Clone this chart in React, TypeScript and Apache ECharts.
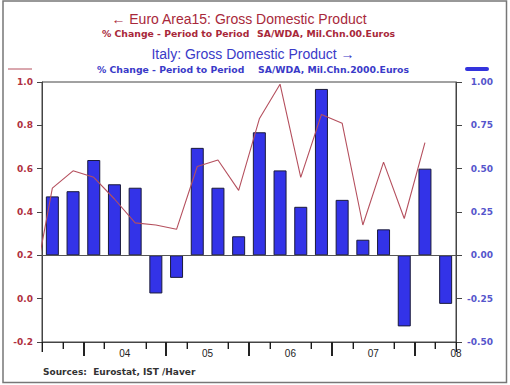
import React, { useEffect, useRef } from "react";
import * as echarts from "echarts";

// Quarterly categories (2003Q3 .. 2008Q2)
const quarters = [
  "2003Q3", "2003Q4", "2004Q1", "2004Q2", "2004Q3", "2004Q4", "2005Q1", "2005Q2",
  "2005Q3", "2005Q4", "2006Q1", "2006Q2", "2006Q3", "2006Q4", "2007Q1", "2007Q2",
  "2007Q3", "2007Q4", "2008Q1", "2008Q2",
];
// Italy GDP % change (right axis, bars)
const italyGdp = [
  0.34, 0.37, 0.55, 0.41, 0.39, -0.22, -0.13, 0.62, 0.39, 0.11,
  0.71, 0.49, 0.28, 0.96, 0.32, 0.09, 0.15, -0.41, 0.5, -0.28,
];
// Euro Area15 GDP % change (left axis, line)
const euroGdp = [
  0.51, 0.59, 0.56, 0.46, 0.35, 0.34, 0.32, 0.61, 0.64, 0.5,
  0.83, 0.99, 0.56, 0.85, 0.81, 0.34, 0.63, 0.37, 0.72, null,
];
// Euro Area value of the quarter before the first shown (2003Q2), clipped at the left edge
const euroGdpPrior = 0.0;
// Year labels, placed at mid-year boundaries
const yearLabels = ["04", "05", "06", "07", "08"];
const leftTicks = { min: -0.2, max: 1.0, interval: 0.2 };
const rightTicks = { min: -0.5, max: 1.0, interval: 0.25 };

const FONT = "'Liberation Sans', Arial, Helvetica, sans-serif";
const WIDE = "'DejaVu Sans', Verdana, sans-serif";
const RED = "#a8283a";
const BLUE = "#3a3ac8";

export default function App() {
  const ref = useRef<HTMLDivElement>(null);
  useEffect(() => {
    if (!ref.current) return;
    const chart = echarts.init(ref.current, null, { renderer: "svg" });
    const n = quarters.length;
    const boundaries = Array.from({ length: n + 1 }, (_, i) => String(i));
    // quarter boundaries that carry a small tick (mid-year ones carry the year label instead)
    const minorTickData = Array.from({ length: n + 1 }, (_, i) => i)
      .filter((i) => !(i % 4 === 0 && i > 0 && i < n) && i % 4 !== 2)
      .map((i) => [i, leftTicks.min]);
    const lineData: any[] = [[-1, euroGdpPrior]];
    euroGdp.forEach((v, i) => lineData.push([i, v]));
    const barData = italyGdp.map((v, i) => [i, v]);

    const subStyle = (text: string, fill: string) => ({
      text,
      fill,
      fontSize: 9.3,
      fontWeight: "bold",
      fontFamily: WIDE,
      align: "left",
      verticalAlign: "middle",
    });

    chart.setOption({
      animation: false,
      backgroundColor: "#ffffff",
      grid: {
        left: 42,
        right: 54,
        top: 82,
        bottom: 43,
        show: true,
        borderColor: "#444",
        borderWidth: 1,
        backgroundColor: "transparent",
      },
      xAxis: [
        {
          type: "value",
          min: -0.5,
          max: n - 0.5,
          show: false,
          axisLine: { onZero: false },
        },
        {
          // year boundaries: heavier ticks
          type: "category",
          data: boundaries,
          boundaryGap: false,
          position: "bottom",
          axisLine: { show: false, onZero: false },
          axisTick: {
            show: true,
            length: 14,
            lineStyle: { color: "#222", width: 2 },
            interval: (i: number) => i % 4 === 2,
          },
          axisLabel: { show: false },
          splitLine: { show: false },
        },
        {
          // quarter boundaries, year labels at mid-year
          type: "value",
          min: 0,
          max: n,
          interval: 1,
          position: "bottom",
          axisLine: { show: true, onZero: false, lineStyle: { color: "#444", width: 1 } },
          axisTick: { show: false },
          axisLabel: {
            show: true,
            margin: 6,
            color: "#222",
            fontSize: 10,
            fontFamily: FONT,
            formatter: (v: number) =>
              v > 0 && v % 4 === 0 ? yearLabels[v / 4 - 1] ?? "" : "",
          },
          splitLine: { show: false },
        },
      ],
      yAxis: [
        {
          type: "value",
          position: "left",
          ...leftTicks,
          axisLine: { show: true, onZero: false, lineStyle: { color: "#444" } },
          axisTick: { show: true, length: 5, lineStyle: { color: "#444" } },
          axisLabel: {
            color: "#b03040",
            fontSize: 9,
            fontWeight: "bold",
            fontFamily: WIDE,
            margin: 9,
            formatter: (v: number) => v.toFixed(1),
          },
          splitLine: { show: false },
        },
        {
          type: "value",
          position: "right",
          ...rightTicks,
          axisLine: { show: true, onZero: false, lineStyle: { color: "#444" } },
          axisTick: { show: true, length: 6, lineStyle: { color: "#444" } },
          axisLabel: {
            color: "#5555cc",
            fontSize: 9,
            fontWeight: "bold",
            fontFamily: WIDE,
            margin: 37,
            align: "right",
            formatter: (v: number) => v.toFixed(2),
          },
          splitLine: { show: false },
        },
      ],
      series: [
        {
          type: "bar",
          name: "Italy",
          xAxisIndex: 0,
          yAxisIndex: 1,
          data: barData,
          barWidth: 13,
          itemStyle: { color: "#3333e8", borderColor: "#1a1a3a", borderWidth: 1 },
          markLine: {
            silent: true,
            symbol: ["none", "none"],
            label: { show: false },
            lineStyle: { color: "#555", type: "solid", width: 1 },
            data: [{ yAxis: 0 }],
          },
        },
        {
          type: "line",
          name: "Euro Area15",
          xAxisIndex: 0,
          yAxisIndex: 0,
          data: lineData,
          clip: true,
          showSymbol: false,
          symbol: "none",
          connectNulls: false,
          lineStyle: { color: "#b5505e", width: 1.1 },
        },
        {
          // small quarter ticks below the time axis
          type: "custom",
          xAxisIndex: 2,
          yAxisIndex: 0,
          silent: true,
          clip: false,
          z: 5,
          data: minorTickData,
          encode: { x: 0, y: 1 },
          renderItem: (_params: any, api: any) => {
            const p = api.coord([api.value(0), api.value(1)]);
            const len = api.value(0) === 0 || api.value(0) === n ? 10 : 7;
            return {
              type: "rect",
              shape: { x: Math.round(p[0]) - 0.4, y: p[1], width: 1.4, height: len },
              style: { fill: "#1a1a1a" },
            };
          },
        },
      ],
      graphic: [
        {
          type: "rect",
          shape: { x: 3, y: 1, width: 503.5, height: 381.5 },
          style: { fill: "none", stroke: "#777", lineWidth: 1.5 },
          silent: true,
        },
        {
          type: "text",
          x: 239,
          y: 19,
          style: {
            text: "\u2190 Euro Area15: Gross Domestic Product",
            fill: RED,
            fontSize: 14,
            fontFamily: FONT,
            align: "center",
            verticalAlign: "middle",
          },
        },
        { type: "text", x: 102, y: 33, style: subStyle("% Change - Period to Period", RED) },
        { type: "text", x: 257, y: 33, style: subStyle("SA/WDA, Mil.Chn.00.Euros", RED) },
        {
          type: "text",
          x: 253,
          y: 54,
          style: {
            text: "Italy: Gross Domestic Product \u2192",
            fill: BLUE,
            fontSize: 14,
            fontFamily: FONT,
            align: "center",
            verticalAlign: "middle",
          },
        },
        { type: "text", x: 97, y: 69, style: subStyle("% Change - Period to Period", BLUE) },
        { type: "text", x: 258, y: 69, style: subStyle("SA/WDA, Mil.Chn.2000.Euros", BLUE) },
        {
          type: "line",
          shape: { x1: 8, y1: 69, x2: 32, y2: 69 },
          style: { stroke: "#b5505e", lineWidth: 1 },
        },
        {
          type: "line",
          shape: { x1: 467, y1: 69, x2: 487, y2: 69 },
          style: { stroke: "#3333dd", lineWidth: 4, lineCap: "round" },
        },
        {
          type: "text",
          x: 43,
          y: 372,
          style: {
            text: "Sources:  Eurostat, IST /Haver",
            fill: "#333",
            fontSize: 9,
            fontWeight: "bold",
            fontFamily: WIDE,
            align: "left",
            verticalAlign: "middle",
          },
        },
      ],
    });
    return () => chart.dispose();
  }, []);
  return (
    <div
      ref={ref}
      style={{ position: "fixed", left: 0, top: 0, width: 510, height: 385 }}
    />
  );
}
